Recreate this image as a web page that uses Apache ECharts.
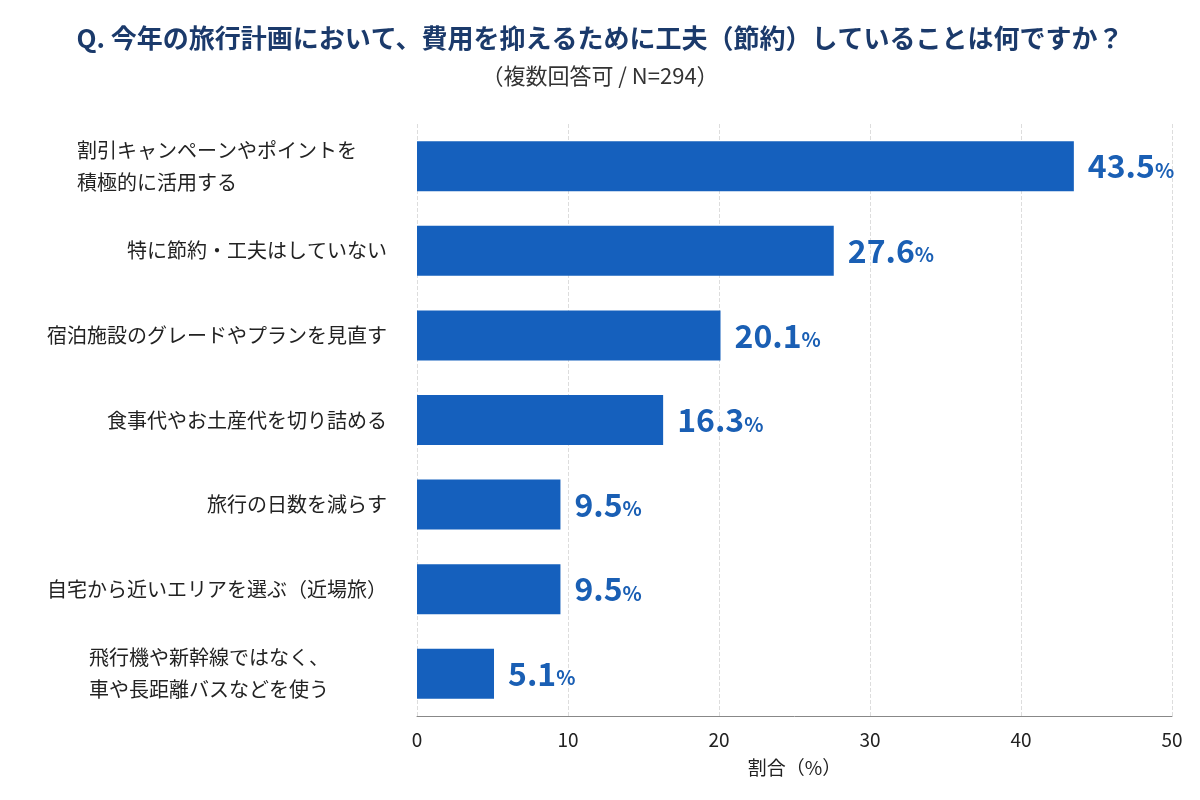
<!DOCTYPE html>
<html><head><meta charset="utf-8">
<script src="https://cdn.jsdelivr.net/npm/echarts@6/dist/echarts.min.js"></script>
<style>html,body{margin:0;padding:0;background:#fff}#c{width:1200px;height:800px}</style>
</head><body><div id="c"></div>
<script>
const categories = [
  "割引キャンペーンやポイントを\n積極的に活用する",
  "特に節約・工夫はしていない",
  "宿泊施設のグレードやプランを見直す",
  "食事代やお土産代を切り詰める",
  "旅行の日数を減らす",
  "自宅から近いエリアを選ぶ（近場旅）",
  "飛行機や新幹線ではなく、\n車や長距離バスなどを使う"
];
const values = [43.5, 27.6, 20.1, 16.3, 9.5, 9.5, 5.1];
const xTicks = [0, 10, 20, 30, 40, 50];
const font = '"Noto Sans CJK JP", "Noto Sans", sans-serif';
const chart = echarts.init(document.getElementById('c'));
chart.setOption({
  textStyle: { fontFamily: font },
  title: {
    text: 'Q. 今年の旅行計画において、費用を抑えるために工夫（節約）していることは何ですか？',
    subtext: '（複数回答可 / N=294）',
    left: 'center', top: 20, itemGap: 14,
    textStyle: { fontSize: 26, fontWeight: 'bold', color: '#1b3a6b', fontFamily: font },
    subtextStyle: { fontSize: 22, color: '#333', fontFamily: font }
  },
  grid: { left: 417, right: 28, top: 124, bottom: 84 },
  xAxis: {
    type: 'value', min: 0, max: 50, interval: 10,
    name: '割合（%）', nameLocation: 'middle', nameGap: 42,
    nameTextStyle: { fontSize: 19, color: '#222', fontFamily: font },
    axisLine: { show: true, lineStyle: { color: '#888' } },
    axisTick: { show: false },
    axisLabel: { fontSize: 19, color: '#222', margin: 14, formatter: v => xTicks.includes(v) ? String(v) : '' },
    splitLine: { show: true, lineStyle: { type: 'dashed', color: '#ddd' } }
  },
  yAxis: {
    type: 'category', data: categories, inverse: true,
    axisLine: { show: false }, axisTick: { show: false },
    axisLabel: {
      fontSize: 20, color: '#222', margin: 30, lineHeight: 32, align: 'right',
      formatter: (v, i) => {
        const lines = v.split('\n');
        if (lines.length === 1) return v;
        const s = i === 0 ? 'a' : 'b';
        return lines.map(l => '{' + s + '|' + l + '}').join('\n');
      },
      rich: {
        a: { fontSize: 20, color: '#222', width: 310, align: 'left', lineHeight: 32, fontFamily: font },
        b: { fontSize: 20, color: '#222', width: 298, align: 'left', lineHeight: 32, fontFamily: font }
      }
    }
  },
  series: [{
    type: 'bar', data: values, barWidth: 50,
    itemStyle: { color: '#1560bd' },
    label: {
      show: true, position: 'right', distance: 14,
      formatter: p => '{n|' + p.value.toFixed(1) + '}{p|%}',
      rich: {
        n: { fontSize: 32, fontWeight: 'bold', color: '#1a5fb4', fontFamily: font },
        p: { fontSize: 20, fontWeight: 'bold', color: '#1a5fb4', fontFamily: font, padding: [8, 0, 0, 0] }
      }
    }
  }]
});
</script></body></html>
